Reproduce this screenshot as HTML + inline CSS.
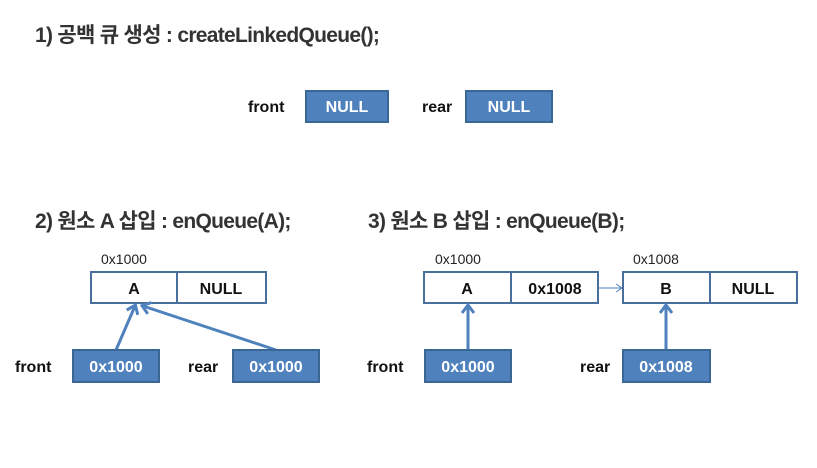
<!DOCTYPE html>
<html><head><meta charset="utf-8"><style>
body{margin:0;background:#fff;}
svg{display:block;font-family:"Liberation Sans","Noto Sans CJK KR",sans-serif;}
.t{font-size:21px;font-weight:bold;fill:#333;letter-spacing:-0.7px}
.l{font-size:16px;font-weight:bold;fill:#111}
.w{font-size:16px;font-weight:bold;fill:#fff}
.a{font-size:14px;fill:#222}
.b{fill:#4f81bd;stroke:#3a6796;stroke-width:2}
.n{fill:#fff;stroke:#4a6f9c;stroke-width:2}
</style></head><body>
<svg width="817" height="468" viewBox="0 0 817 468">
<defs>
<marker id="ah" markerWidth="14" markerHeight="14" refX="8" refY="7" orient="auto" markerUnits="userSpaceOnUse"><path d="M1,1 L9,7 L1,13" fill="none" stroke="#4f81bd" stroke-width="3"/></marker>
<marker id="ah2" markerWidth="10" markerHeight="10" refX="7" refY="5" orient="auto" markerUnits="userSpaceOnUse"><path d="M1,1 L7,5 L1,9" fill="none" stroke="#4f81bd" stroke-width="1"/></marker>
</defs>
<text class="t" x="35" y="42">1) 공백 큐 생성 : createLinkedQueue();</text>
<text class="l" x="248" y="112">front</text>
<rect class="b" x="306" y="91" width="82" height="31"/><text class="w" x="347" y="112" text-anchor="middle">NULL</text>
<text class="l" x="422" y="112">rear</text>
<rect class="b" x="466" y="91" width="86" height="31"/><text class="w" x="509" y="112" text-anchor="middle">NULL</text>

<text class="t" x="35" y="228">2) 원소 A 삽입 : enQueue(A);</text>
<text class="a" x="101" y="264">0x1000</text>
<rect class="n" x="91" y="272" width="175" height="31"/><line x1="177" y1="272" x2="177" y2="303" stroke="#4a6f9c" stroke-width="2"/>
<text class="l" x="134" y="294" text-anchor="middle">A</text><text class="l" x="221" y="294" text-anchor="middle">NULL</text>
<line x1="116" y1="350" x2="135" y2="306" stroke="#4f81bd" stroke-width="3" marker-end="url(#ah)"/>
<line x1="276" y1="350" x2="143" y2="306" stroke="#4f81bd" stroke-width="3" marker-end="url(#ah)"/>
<text class="l" x="15" y="372">front</text>
<rect class="b" x="73" y="350" width="86" height="32"/><text class="w" x="116" y="372" text-anchor="middle">0x1000</text>
<text class="l" x="188" y="372">rear</text>
<rect class="b" x="233" y="350" width="86" height="32"/><text class="w" x="276" y="372" text-anchor="middle">0x1000</text>

<text class="t" x="368" y="228">3) 원소 B 삽입 : enQueue(B);</text>
<text class="a" x="435" y="264">0x1000</text>
<rect class="n" x="424" y="272" width="174" height="31"/><line x1="511" y1="272" x2="511" y2="303" stroke="#4a6f9c" stroke-width="2"/>
<text class="l" x="467" y="294" text-anchor="middle">A</text><text class="l" x="555" y="294" text-anchor="middle">0x1008</text>
<line x1="598" y1="288" x2="622" y2="288" stroke="#4f81bd" stroke-width="1" marker-end="url(#ah2)"/>
<text class="a" x="633" y="264">0x1008</text>
<rect class="n" x="623" y="272" width="174" height="31"/><line x1="710" y1="272" x2="710" y2="303" stroke="#4a6f9c" stroke-width="2"/>
<text class="l" x="666" y="294" text-anchor="middle">B</text><text class="l" x="753" y="294" text-anchor="middle">NULL</text>
<line x1="468" y1="350" x2="468" y2="306" stroke="#4f81bd" stroke-width="3" marker-end="url(#ah)"/>
<line x1="666" y1="350" x2="666" y2="306" stroke="#4f81bd" stroke-width="3" marker-end="url(#ah)"/>
<text class="l" x="367" y="372">front</text>
<rect class="b" x="425" y="350" width="86" height="32"/><text class="w" x="468" y="372" text-anchor="middle">0x1000</text>
<text class="l" x="580" y="372">rear</text>
<rect class="b" x="623" y="350" width="87" height="32"/><text class="w" x="666" y="372" text-anchor="middle">0x1008</text>
</svg>
</body></html>
